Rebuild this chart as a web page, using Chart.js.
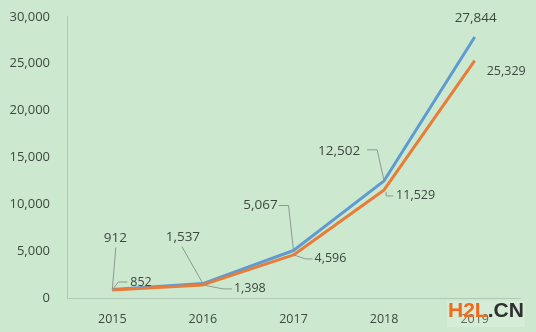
<!DOCTYPE html>
<html>
<head>
<meta charset="utf-8">
<script src="https://cdn.jsdelivr.net/npm/chart.js@4/dist/chart.umd.min.js"></script>
<style>
  html, body { margin: 0; padding: 0; background: #cce8cf; }
  #c { display: block; }
</style>
</head>
<body>
<canvas id="c" width="536" height="332"></canvas>
<script>
// Yearly totals, two series
const years = ['2015', '2016', '2017', '2018', '2019'];
const seriesBlue = [912, 1537, 5067, 12502, 27844];
const seriesOrange = [852, 1398, 4596, 11529, 25329];
const yTicks = [0, 5000, 10000, 15000, 20000, 25000, 30000];

const BG = '#cce8cf';
const TEXT = '#3f4840';
const AXIS = '#b3c7b5';
const FONT = "'Open Sans', 'Liberation Sans', sans-serif";

const fmt = v => v.toLocaleString('en-US');

// Label placement (pixel offsets from each point) and leader-line paths
const labelLayout = {
  blue: {
    size: 13.5,
    items: [
      { dx: 3, dy: -51, align: 'center', lead: [[3.5, -42], [0, 0]] },
      { dx: -20, dy: -46, align: 'center', lead: [[-21, -37], [0, 0]] },
      { dx: -33, dy: -45, align: 'center', lead: [[-15, -45], [-5, -45], [0, 0]] },
      { dx: -45, dy: -30, align: 'center', lead: [[-17, -31], [-7, -31], [0, 0]] },
      { dx: 1, dy: -19, align: 'center', lead: null }
    ]
  },
  orange: {
    size: 12.5,
    items: [
      { dx: 18, dy: -8, align: 'left', lead: [[0, 0], [6, -8], [15, -8]] },
      { dx: 31, dy: 4, align: 'left', lead: [[0, 0], [20, 4], [29, 4]] },
      { dx: 21, dy: 4, align: 'left', lead: [[0, 0], [12, 4], [19, 4]] },
      { dx: 12, dy: 6, align: 'left', lead: [[2, 2], [2, 6], [9, 6]] },
      { dx: 12, dy: 11, align: 'left', lead: null }
    ]
  }
};

const backgroundPlugin = {
  id: 'bg',
  beforeDraw(chart) {
    const ctx = chart.ctx;
    ctx.save();
    ctx.fillStyle = BG;
    ctx.fillRect(0, 0, chart.width, chart.height);
    ctx.restore();
  }
};

const valueLabels = {
  id: 'valueLabels',
  afterDatasetsDraw(chart) {
    const ctx = chart.ctx;
    chart.data.datasets.forEach((ds, di) => {
      const layout = labelLayout[ds.key];
      const meta = chart.getDatasetMeta(di);
      meta.data.forEach((pt, i) => {
        const it = layout.items[i];
        const px = pt.x, py = pt.y;
        if (it.lead) {
          ctx.save();
          ctx.strokeStyle = '#8e998f';
          ctx.lineWidth = 1;
          ctx.beginPath();
          it.lead.forEach(([x, y], k) => {
            if (k === 0) ctx.moveTo(px + x, py + y);
            else ctx.lineTo(px + x, py + y);
          });
          ctx.stroke();
          ctx.restore();
        }
        ctx.save();
        ctx.fillStyle = TEXT;
        ctx.font = layout.size + 'px ' + FONT;
        ctx.textAlign = it.align;
        ctx.textBaseline = 'middle';
        ctx.fillText(fmt(ds.data[i]), px + it.dx, py + it.dy);
        ctx.restore();
      });
    });
  }
};

const brandMark = {
  id: 'brandMark',
  afterDraw(chart) {
    const ctx = chart.ctx;
    ctx.save();
    // faint backing strip under the site mark
    ctx.fillStyle = 'rgba(255,255,255,0.18)';
    ctx.fillRect(447, 301, 78, 26);
    ctx.font = "bold 21px 'Liberation Sans', Arial, sans-serif";
    ctx.textBaseline = 'alphabetic';
    ctx.textAlign = 'left';
    const x = 448, y = 317;
    ctx.fillStyle = '#f26a1b';
    ctx.fillText('H2L', x, y);
    const w = ctx.measureText('H2L').width;
    ctx.fillStyle = '#2f2f2f';
    ctx.fillText('.CN', x + w, y);
    ctx.restore();
  }
};

new Chart(document.getElementById('c'), {
  type: 'line',
  data: {
    labels: years,
    datasets: [
      {
        key: 'orange',
        data: seriesOrange,
        borderColor: '#e87d3a',
        borderWidth: 3,
        order: 0
      },
      {
        key: 'blue',
        data: seriesBlue,
        borderColor: '#5f9bd0',
        borderWidth: 3,
        order: 1
      }
    ]
  },
  options: {
    responsive: false,
    animation: false,
    devicePixelRatio: 1,
    layout: { padding: { top: 10, right: 16, bottom: 0, left: 0 } },
    elements: {
      line: { tension: 0, borderJoinStyle: 'round', borderCapStyle: 'butt', fill: false },
      point: { radius: 0, hoverRadius: 0 }
    },
    plugins: { legend: { display: false }, tooltip: { enabled: false } },
    scales: {
      x: {
        offset: true,
        grid: { display: false },
        border: { display: true, color: AXIS, width: 1 },
        ticks: { color: TEXT, padding: 6, font: { family: FONT, size: 12.5 } },
        afterFit(scale) { scale.height = 34; }
      },
      y: {
        min: 0,
        max: 30000,
        afterBuildTicks(scale) { scale.ticks = yTicks.map(v => ({ value: v })); },
        grid: { display: false },
        border: { display: true, color: AXIS, width: 1 },
        ticks: {
          color: TEXT,
          padding: 9,
          font: { family: FONT, size: 13 },
          callback: v => fmt(v)
        },
        afterFit(scale) { scale.width = 67; }
      }
    }
  },
  plugins: [backgroundPlugin, valueLabels, brandMark]
});
</script>
</body>
</html>
